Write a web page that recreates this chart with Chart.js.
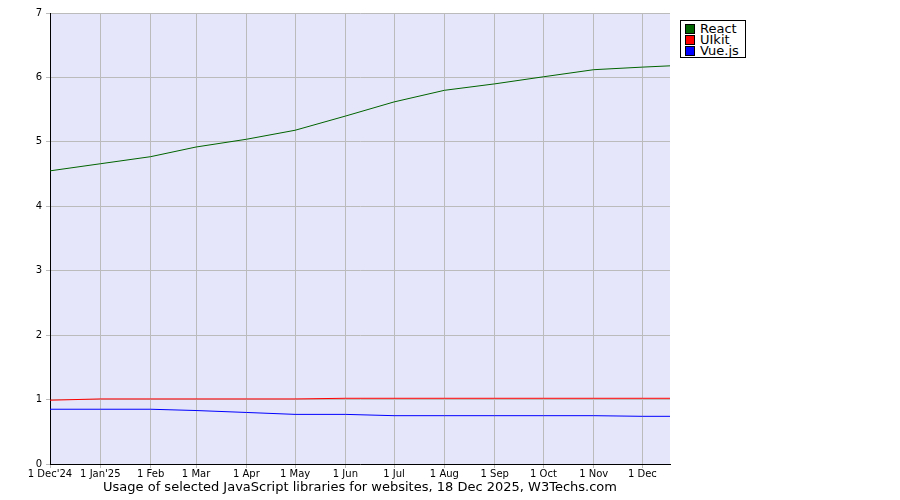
<!DOCTYPE html>
<html>
<head>
<meta charset="utf-8">
<script src="https://cdn.jsdelivr.net/npm/chart.js@4"></script>
<style>
  body { margin: 0; background: #fff; }
  #wrap { position: relative; width: 900px; height: 500px; }
  #legend { position: absolute; left: 680px; top: 20px; border: 1px solid #000; background: #fff;
            font: 13px "DejaVu Sans", sans-serif; padding: 2px 6px 1px 4px; line-height: 11px; }
  #legend div { display: flex; align-items: center; }
  #legend span.box { display: inline-block; width: 8px; height: 8px; border: 1px solid #000; margin-right: 5px; }
</style>
</head>
<body>
<div id="wrap">
  <canvas id="chart" width="900" height="500"></canvas>
  <div id="legend"></div>
</div>
<script>
// days since 1 Dec 2024
const dayOffsets = [0, 31, 62, 90, 121, 151, 182, 212, 243, 274, 304, 335, 365, 382];
const tickDays = [0, 31, 62, 90, 121, 151, 182, 212, 243, 274, 304, 335, 365];
const tickLabels = ["1 Dec'24", "1 Jan'25", "1 Feb", "1 Mar", "1 Apr", "1 May", "1 Jun", "1 Jul", "1 Aug", "1 Sep", "1 Oct", "1 Nov", "1 Dec"];
const titleText = 'Usage of selected JavaScript libraries for websites, 18 Dec 2025, W3Techs.com';

const reactValues = [4.55, 4.66, 4.77, 4.92, 5.04, 5.18, 5.40, 5.62, 5.80, 5.90, 6.01, 6.12, 6.16, 6.18];
const uikitValues = [0.99, 1.01, 1.01, 1.01, 1.01, 1.01, 1.02, 1.02, 1.02, 1.02, 1.02, 1.02, 1.02, 1.02];
const vueValues = [0.85, 0.85, 0.85, 0.83, 0.80, 0.77, 0.77, 0.75, 0.75, 0.75, 0.75, 0.75, 0.74, 0.74];

const series = [
  { label: 'React', data: reactValues, color: '#006400' },
  { label: 'UIkit', data: uikitValues, color: '#ff0000' },
  { label: 'Vue.js', data: vueValues, color: '#0000ff' }
];

document.getElementById('legend').innerHTML = series.map(s =>
  `<div><span class="box" style="background:${s.color}"></span>${s.label}</div>`).join('');

const font = { family: 'DejaVu Sans', size: 10 };

const plotBg = {
  id: 'plotBg',
  beforeDraw(chart) {
    const { ctx, chartArea: a } = chart;
    ctx.save();
    ctx.fillStyle = '#e6e6fa';
    ctx.fillRect(a.left, a.top, a.width, a.height);
    ctx.restore();
  },
  afterDraw(chart) {
    const ctx = chart.ctx;
    ctx.save();
    ctx.fillStyle = '#000';
    ctx.font = '13px "DejaVu Sans"';
    ctx.textAlign = 'center';
    ctx.textBaseline = 'middle';
    ctx.fillText(titleText, 360, 488);
    ctx.restore();
  }
};

new Chart(document.getElementById('chart'), {
  type: 'line',
  data: {
    datasets: series.map(s => ({
      label: s.label,
      data: s.data.map((v, i) => ({ x: dayOffsets[i], y: v })),
      borderColor: s.color,
      borderWidth: 1,
      pointRadius: 0,
      tension: 0
    }))
  },
  options: {
    responsive: false,
    animation: false,
    layout: { padding: { left: 0, right: 230, top: 13, bottom: 20 } },
    plugins: {
      legend: { display: false },
      tooltip: { enabled: false }
    },
    scales: {
      x: {
        type: 'linear', min: 0, max: 382,
        afterBuildTicks: axis => { axis.ticks = tickDays.map(v => ({ value: v })); },
        ticks: {
          autoSkip: false, maxRotation: 0, color: '#000', font: font, padding: 0,
          callback: v => tickLabels[tickDays.indexOf(v)]
        },
        grid: { color: '#bbbbbb', drawTicks: true, tickLength: 4 },
        border: { color: '#000' }
      },
      y: {
        min: 0, max: 7,
        afterFit: axis => { axis.width = 50; },
        ticks: { stepSize: 1, color: '#000', font: font, padding: 4 },
        grid: { color: '#bbbbbb', tickLength: 4 },
        border: { color: '#000' }
      }
    }
  },
  plugins: [plotBg]
});
</script>
</body>
</html>
